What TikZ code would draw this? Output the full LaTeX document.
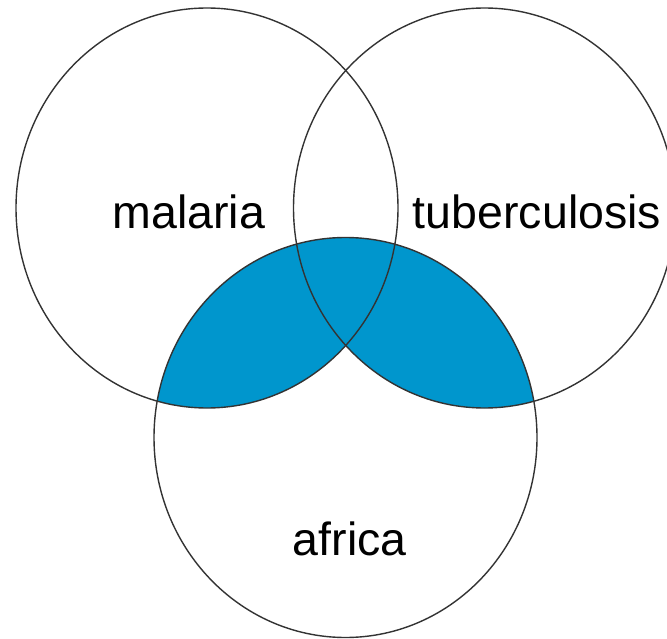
\documentclass[tikz,border=0pt]{standalone}
\usepackage{fontspec}
\setmainfont{Liberation Sans}
\usepackage{tikz}
\usepackage[usenames]{xcolor}

\definecolor{setblue}{RGB}{0,150,205}

\newcommand{\setmalaria}{(207,208) ellipse [x radius=191pt, y radius=200pt]}
\newcommand{\settuberc}{(484.5,208) ellipse [x radius=191pt, y radius=200pt]}
\newcommand{\setafrica}{(345.5,437.5) ellipse [x radius=191.5pt, y radius=200pt]}

\begin{document}
\begin{tikzpicture}[x=1pt, y=-1pt,
    setline/.style={draw=black!80, line width=1.4pt},
    setlabel/.style={font=\fontsize{46.5}{50}\selectfont, anchor=base, inner sep=0pt}]

\useasboundingbox (0,0) rectangle (667,639);

% ---- shaded part: africa with malaria or tuberculosis ----
\begin{scope}
  \clip \setafrica;
  \fill[setblue] \setmalaria;
  \fill[setblue] \settuberc;
\end{scope}

% ---- the three sets ----
\draw[setline] \setmalaria;
\draw[setline] \settuberc;
\draw[setline] \setafrica;

\node[setlabel] (malaria) at (188.7,228.3) {malaria};
\node[setlabel] (tuberculosis) at (537,228.3) {tuberculosis};
\node[setlabel] (africa) at (349.7,555) {africa};

\end{tikzpicture}
\end{document}
